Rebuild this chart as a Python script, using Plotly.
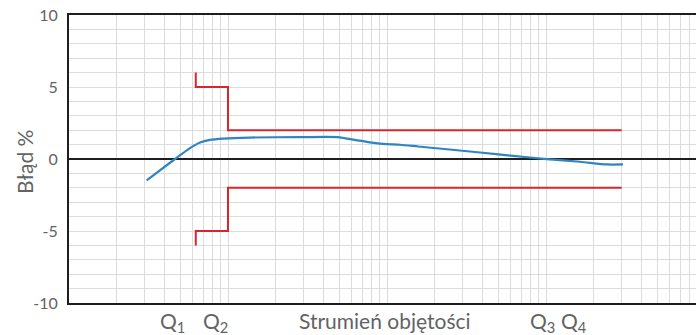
import math
import plotly.graph_objects as go

# Measured curve (flow in arbitrary log units, error in %)
flow = [3.08, 4.64, 5.77, 6.67, 7.7, 9.34, 13.7, 28.4, 49.2, 58.5, 74.5, 94.3, 121, 157, 385, 620, 1010, 1637, 2410, 3050]
error = [-1.49, 0.0, 0.76, 1.15, 1.33, 1.42, 1.49, 1.52, 1.52, 1.38, 1.19, 1.05, 0.99, 0.87, 0.45, 0.22, -0.01, -0.19, -0.38, -0.38]

# Maximum permissible error envelope
limit_x = [6.27, 6.27, 10, 10, 2990]
upper_limit = [6, 5, 5, 2, 2]
lower_limit = [-6, -5, -5, -2, -2]

# Flow-rate markers on the x axis
q_labels = ["Q<sub>1</sub>", "Q<sub>2</sub>", "Q<sub>3</sub>", "Q<sub>4</sub>"]
q_positions = [4.48, 8.3, 957, 1500]

y_ticks = [-10, -5, 0, 5, 10]
x_title = "Strumień objętości"
x_title_pos = 97
y_title = "Błąd %"

grid_x = [k * 10 ** d for d in range(0, 4) for k in range(1, 10)]

FONT = "Lato"
GRAY = "#636363"

fig = go.Figure()
fig.add_trace(go.Scatter(x=limit_x, y=upper_limit, mode="lines",
                         line=dict(color="#d7262c", width=2), hoverinfo="skip"))
fig.add_trace(go.Scatter(x=limit_x, y=lower_limit, mode="lines",
                         line=dict(color="#d7262c", width=2), hoverinfo="skip"))
fig.add_trace(go.Scatter(x=flow, y=error, mode="lines",
                         line=dict(color="#3184c1", width=2.2, shape="spline", smoothing=0.6)))

annotations = []
for lab, pos in zip(q_labels, q_positions):
    annotations.append(dict(x=math.log10(pos), xref="x", y=-0.065, yref="paper", text=lab,
                            showarrow=False, xanchor="center", yanchor="middle",
                            font=dict(family=FONT, size=21, color=GRAY)))
annotations.append(dict(x=math.log10(x_title_pos), xref="x", y=-0.06, yref="paper", text=x_title,
                        showarrow=False, xanchor="center", yanchor="middle",
                        font=dict(family=FONT, size=21, color=GRAY)))
annotations.append(dict(x=-44 / 627, xref="paper", y=0.49, yref="paper", text=y_title,
                        textangle=-90, showarrow=False, xanchor="center", yanchor="middle",
                        font=dict(family=FONT, size=21, color=GRAY)))

fig.update_layout(
    width=696, height=335,
    margin=dict(l=69, r=0, t=15, b=32),
    paper_bgcolor="white", plot_bgcolor="white",
    showlegend=False,
    annotations=annotations,
    xaxis=dict(type="log", range=[0, 627 / 159], tickvals=grid_x, showticklabels=False,
               ticks="", showgrid=True, gridcolor="#dcdcdc", gridwidth=1,
               showline=True, linecolor="#1e1e1e", linewidth=2, mirror=True,
               zeroline=False),
    yaxis=dict(range=[-10, 10], tickvals=y_ticks, ticktext=[str(v) for v in y_ticks],
               minor=dict(dtick=1, showgrid=True, gridcolor="#dcdcdc", gridwidth=1),
               showgrid=True, gridcolor="#dcdcdc", gridwidth=1,
               zeroline=True, zerolinecolor="#1e1e1e", zerolinewidth=1.5,
               showline=True, linecolor="#1e1e1e", linewidth=2,
               ticks="", ticklabelstandoff=6,
               tickfont=dict(family=FONT, size=16, color=GRAY)),
)

fig.write_html("out.html", config={"displayModeBar": False},
               post_script="document.body.style.margin='0';document.body.style.overflow='hidden';")
